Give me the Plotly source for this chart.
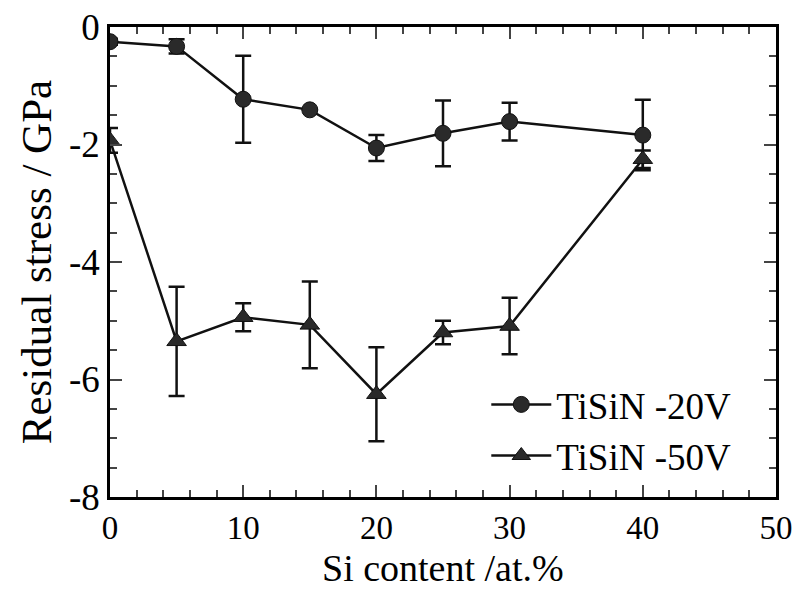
import plotly.graph_objects as go

si = [0, 5, 10, 15, 20, 25, 30, 40]
s20 = [-0.25, -0.33, -1.23, -1.41, -2.06, -1.81, -1.61, -1.84]
e20 = [0.05, 0.12, 0.74, 0.0, 0.22, 0.56, 0.32, 0.6]
s50 = [-1.93, -5.35, -4.94, -5.07, -6.25, -5.2, -5.09, -2.25]
e50 = [0.21, 0.93, 0.24, 0.74, 0.8, 0.2, 0.48, 0.15]

xticks = [0, 10, 20, 30, 40, 50]
yticks = [0, -2, -4, -6, -8]
yticktext = ["0", "-2", "-4", "-6", "-8"]
xtitle = "Si content /at.%"
ytitle = "Residual stress / GPa"

col = "#111"
fig = go.Figure()
fig.add_trace(go.Scatter(
    x=si, y=s20, name="TiSiN -20V", mode="lines+markers",
    line=dict(color=col, width=2.5),
    marker=dict(symbol="circle", size=16, color="#2a2a2a", line=dict(color=col, width=1)),
    error_y=dict(type="data", array=e20, color=col, thickness=2.5, width=8),
))
fig.add_trace(go.Scatter(
    x=si, y=s50, name="TiSiN -50V", mode="lines+markers",
    line=dict(color=col, width=2.5),
    marker=dict(symbol="triangle-up", size=17, color="#2a2a2a", line=dict(color=col, width=1)),
    error_y=dict(type="data", array=e50, color=col, thickness=2.5, width=8),
))

font = "Times New Roman, Liberation Serif, DejaVu Serif, serif"
fig.update_layout(
    width=798, height=591,
    margin=dict(l=110, r=22, t=27, b=94),
    paper_bgcolor="white", plot_bgcolor="white",
    font=dict(family=font, size=37, color="black"),
    showlegend=True,
    legend=dict(x=0.565, y=0.262, xanchor="left", yanchor="top",
                bgcolor="rgba(0,0,0,0)", font=dict(family=font, size=37),
                itemwidth=60, tracegroupgap=0),
    xaxis=dict(range=[0, 50], tickvals=xticks, ticks="inside", ticklen=12, tickwidth=2,
               showline=True, linewidth=2.5, linecolor="black", mirror="ticks",
               showgrid=False, zeroline=False, automargin=False,
               minor=dict(dtick=2, ticks="inside", ticklen=7, tickwidth=2, showgrid=False),
               tickfont=dict(family=font, size=33)),
    yaxis=dict(range=[-8, 0], tickvals=yticks, ticktext=yticktext, ticks="inside", ticklen=12,
               tickwidth=2, showline=True, linewidth=2.5, linecolor="black", mirror="ticks",
               showgrid=False, zeroline=False, automargin=False,
               minor=dict(dtick=0.5, ticks="inside", ticklen=7, tickwidth=2, showgrid=False),
               title=dict(text=ytitle, font=dict(family=font, size=43), standoff=4),
               tickfont=dict(family=font, size=37)),
)
fig.add_annotation(text=xtitle, xref="paper", yref="paper", x=0.5, y=-0.2,
                   xanchor="center", yanchor="bottom", showarrow=False,
                   font=dict(family=font, size=38, color="black"))
fig.write_html("out.html")
